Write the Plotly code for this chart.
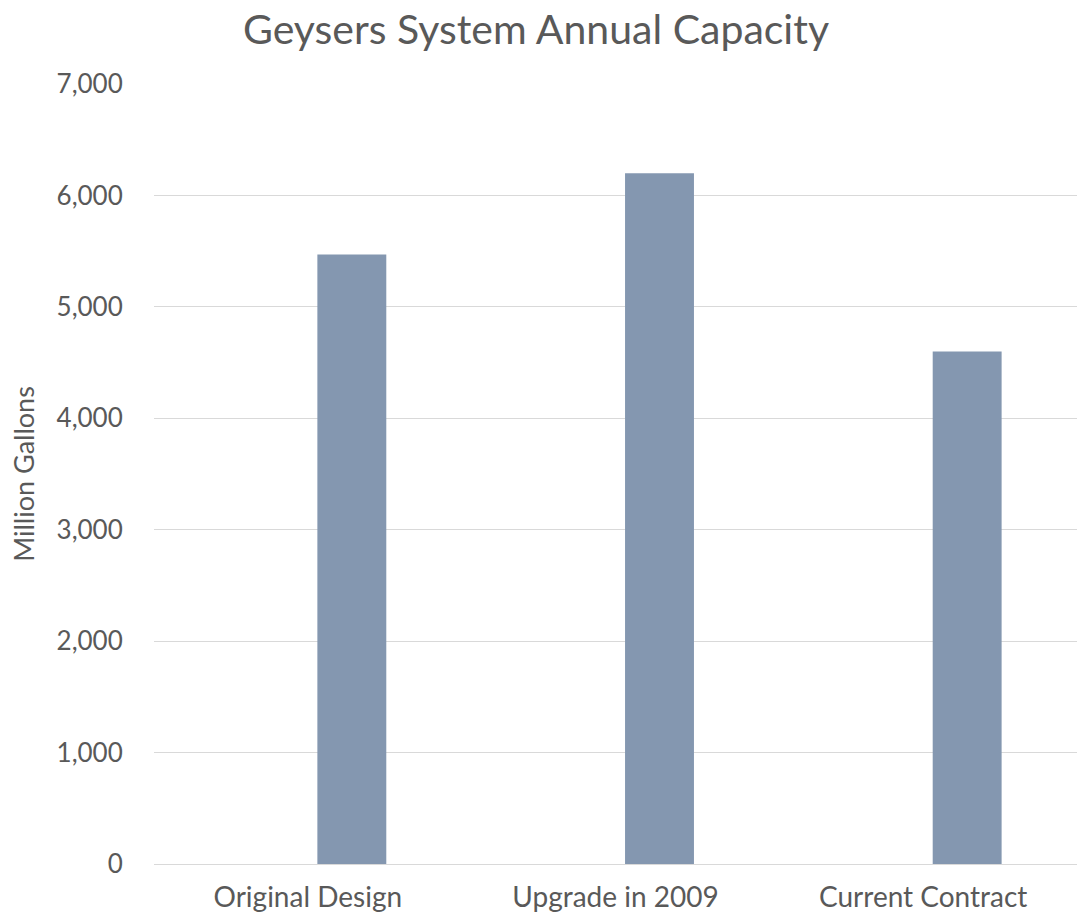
import plotly.graph_objects as go

# Annual capacity of the Geysers system, in million gallons
categories = ["Original Design", "Upgrade in 2009", "Current Contract"]
capacity = [5470, 6200, 4600]
y_ticks = [0, 1000, 2000, 3000, 4000, 5000, 6000, 7000]
y_tick_labels = ["0", "1,000", "2,000", "3,000", "4,000", "5,000", "6,000", "7,000"]

FONT = "Lato, 'Noto Sans', sans-serif"
TEXT = "#595959"

fig = go.Figure(
    go.Bar(
        x=categories,
        y=capacity,
        marker=dict(color="#8497B0", line=dict(width=0)),
        width=0.224,
        offset=0.031,
    )
)

fig.update_layout(
    width=1082,
    height=921,
    margin=dict(l=154, r=5, t=84, b=57, autoexpand=False),
    paper_bgcolor="white",
    plot_bgcolor="white",
    showlegend=False,
    font=dict(family=FONT, color=TEXT),
    title=dict(
        text="Geysers System Annual Capacity",
        font=dict(family=FONT, size=41, color=TEXT),
        x=0.4954,
        xanchor="center",
        xref="container",
        y=1 - 30 / 921,
        yanchor="middle",
        yref="container",
    ),
)

fig.update_xaxes(
    type="category",
    range=[-0.5, 2.5],
    showgrid=False,
    showline=False,
    zeroline=False,
    ticks="outside",
    ticklen=8,
    tickcolor="rgba(0,0,0,0)",
    tickfont=dict(family=FONT, size=28, color=TEXT),
)

fig.update_yaxes(
    range=[0, 7000],
    tickvals=y_ticks,
    ticktext=y_tick_labels,
    showgrid=True,
    gridcolor="#D9D9D9",
    gridwidth=1.3,
    zeroline=True,
    zerolinecolor="#D9D9D9",
    zerolinewidth=1.3,
    showline=False,
    ticks="outside",
    ticklen=25,
    tickcolor="rgba(0,0,0,0)",
    tickfont=dict(family=FONT, size=26, color=TEXT),
    title=dict(
        text="Million Gallons",
        font=dict(family=FONT, size=27, color=TEXT),
        standoff=14,
    ),
)

fig.write_html("out.html")
